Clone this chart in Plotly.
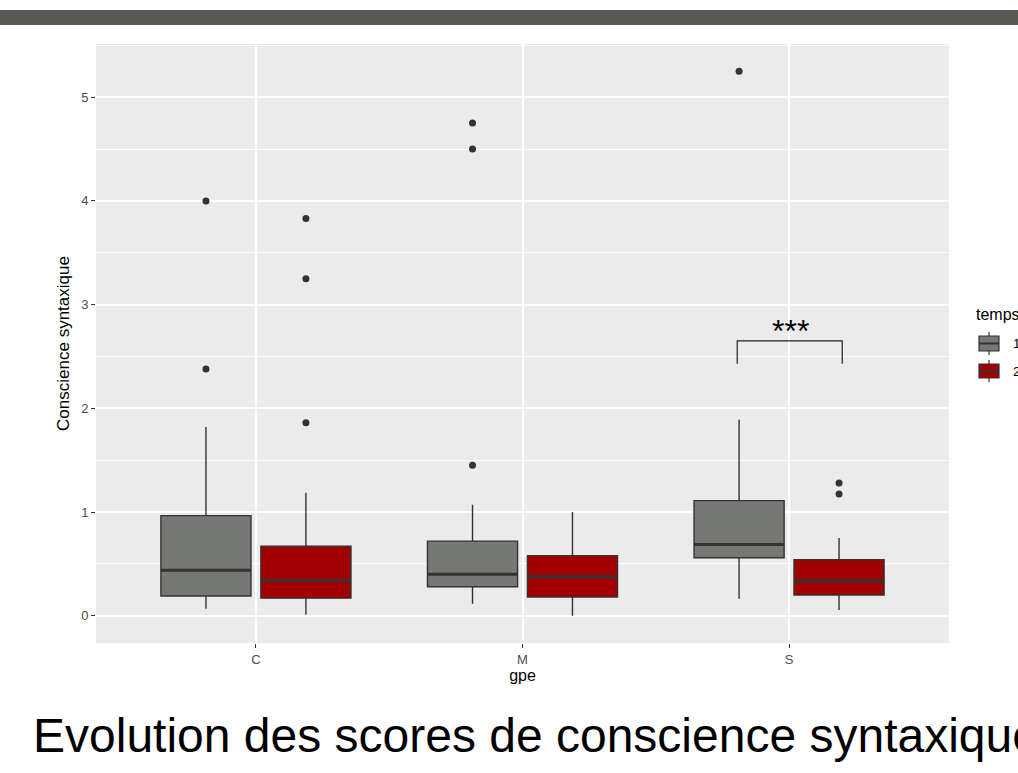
import plotly.graph_objects as go

# ---------------- data ----------------
groups = ["C", "M", "S"]
temps = ["1", "2"]
# temps 1 (grey)
q1_t1 = [0.19, 0.28, 0.56]
med_t1 = [0.44, 0.40, 0.687]
q3_t1 = [0.966, 0.72, 1.11]
lo_t1 = [0.067, 0.115, 0.164]
hi_t1 = [1.82, 1.07, 1.89]
out_t1 = [[4.0, 2.38], [4.75, 4.5, 1.45], [5.25]]
# temps 2 (red)
q1_t2 = [0.17, 0.18, 0.20]
med_t2 = [0.34, 0.376, 0.337]
q3_t2 = [0.67, 0.58, 0.54]
lo_t2 = [0.01, 0.0, 0.055]
hi_t2 = [1.185, 1.0, 0.75]
out_t2 = [[3.83, 3.25, 1.86], [], [1.28, 1.175]]
signif_label = "***"
signif_y = [2.43, 2.65]

W, H = 1018, 773
ML, MT = 96, 44
MR = W - 949
MB = H - 643
PW, PH = W - ML - MR, H - MT - MB

def px(x):  # screen x -> paper
    return (x - ML) / PW

def py(y):  # screen y -> paper
    return (H - MB - y) / PH

GREY = "#767874"
RED = "#A00000"
EDGE = "#333333"
DODGE = 0.1875
BW = 0.338

fig = go.Figure()
series = [
    (q1_t1, med_t1, q3_t1, lo_t1, hi_t1, out_t1, GREY, -DODGE),
    (q1_t2, med_t2, q3_t2, lo_t2, hi_t2, out_t2, RED, DODGE),
]
for q1, med, q3, lo, hi, outs, col, off in series:
    xs = [i + 1 + off for i in range(len(groups))]
    fig.add_trace(go.Box(
        x=xs, q1=q1, median=med, q3=q3, lowerfence=lo, upperfence=hi,
        width=BW, fillcolor=col, line=dict(color=EDGE, width=1.4),
        whiskerwidth=0, boxpoints=False, showlegend=False, hoverinfo="skip"))
    mx, my = [], []
    for x, m in zip(xs, med):
        mx += [x - BW / 2, x + BW / 2, None]
        my += [m, m, None]
    fig.add_trace(go.Scatter(x=mx, y=my, mode="lines",
                             line=dict(color=EDGE, width=3), showlegend=False, hoverinfo="skip"))
    ox, oy = [], []
    for x, o in zip(xs, outs):
        ox += [x] * len(o)
        oy += o
    fig.add_trace(go.Scatter(x=ox, y=oy, mode="markers",
                             marker=dict(color=EDGE, size=7), showlegend=False, hoverinfo="skip"))

# significance bracket on S
sx = 3
fig.add_trace(go.Scatter(
    x=[sx - DODGE - 0.007, sx - DODGE - 0.007, sx + DODGE + 0.012, sx + DODGE + 0.012],
    y=[signif_y[0], signif_y[1], signif_y[1], signif_y[0]],
    mode="lines", line=dict(color="#222222", width=1.2), showlegend=False, hoverinfo="skip"))
fig.add_annotation(x=sx + 0.005, y=signif_y[1], text=signif_label, showarrow=False,
                   yanchor="bottom", yshift=-10,
                   font=dict(family="Liberation Sans, Arial", size=32, color="black"))

shapes = []
# top dark bar
shapes.append(dict(type="rect", xref="paper", yref="paper",
                   x0=px(0), x1=px(W), y0=py(25), y1=py(10),
                   fillcolor="#575A53", line=dict(width=0), layer="above"))

# manual legend (cut off at right)
fig.add_annotation(xref="paper", yref="paper", x=px(974), y=py(314), text="temps",
                   showarrow=False, xanchor="left", yanchor="middle",
                   font=dict(family="Liberation Sans, Arial", size=16, color="black"))
for (top, bot, col, lab) in [(332, 355, GREY, temps[0]), (360, 382, RED, temps[1])]:
    cx = 989
    shapes.append(dict(type="line", xref="paper", yref="paper",
                       x0=px(cx), x1=px(cx), y0=py(top), y1=py(bot),
                       line=dict(color=EDGE, width=1.2)))
    shapes.append(dict(type="rect", xref="paper", yref="paper",
                       x0=px(979), x1=px(999), y0=py(bot - 4), y1=py(top + 4),
                       fillcolor=col, line=dict(color=EDGE, width=1.2)))
    mid = (top + bot) / 2
    shapes.append(dict(type="line", xref="paper", yref="paper",
                       x0=px(979), x1=px(999), y0=py(mid), y1=py(mid),
                       line=dict(color=EDGE, width=2)))
    fig.add_annotation(xref="paper", yref="paper", x=px(1011), y=py(mid), text=lab,
                       showarrow=False, xanchor="left", yanchor="middle",
                       font=dict(family="Liberation Sans, Arial", size=13, color="black"))

# slide title
fig.add_annotation(xref="paper", yref="paper", x=px(31), y=py(735),
                   text="Evolution des scores de conscience syntaxique",
                   showarrow=False, xanchor="left", yanchor="middle",
                   font=dict(family="Liberation Sans, Arial", size=48, color="black"))

fig.update_layout(
    width=W, height=H,
    margin=dict(l=ML, r=MR, t=MT, b=MB, autoexpand=False),
    paper_bgcolor="white", plot_bgcolor="#EBEBEB",
    shapes=shapes, showlegend=False,
    font=dict(family="Liberation Sans, Arial", color="#4D4D4D"),
)
fig.update_xaxes(
    range=[0.4, 3.6], tickvals=[1, 2, 3], ticktext=groups,
    showgrid=True, gridcolor="white", gridwidth=1.6, zeroline=False,
    ticks="outside", ticklen=4, tickcolor="#333333", tickwidth=1,
    tickfont=dict(size=13, color="#4D4D4D"),
    title=dict(text="gpe", font=dict(size=16, color="black"), standoff=4),
)
fig.update_yaxes(
    range=[-0.2625, 5.5125], tick0=0, dtick=1,
    showgrid=True, gridcolor="white", gridwidth=1.6, zeroline=False,
    ticks="outside", ticklen=4, tickcolor="#333333", tickwidth=1,
    tickfont=dict(size=13, color="#4D4D4D"),
    minor=dict(dtick=0.5, tick0=0, showgrid=True, gridcolor="white", gridwidth=0.7),
    title=dict(text="Conscience syntaxique", font=dict(size=17, color="black"), standoff=7),
)

fig.write_html("out.html", config={"displayModeBar": False},
               post_script="document.body.style.margin='0px';")
